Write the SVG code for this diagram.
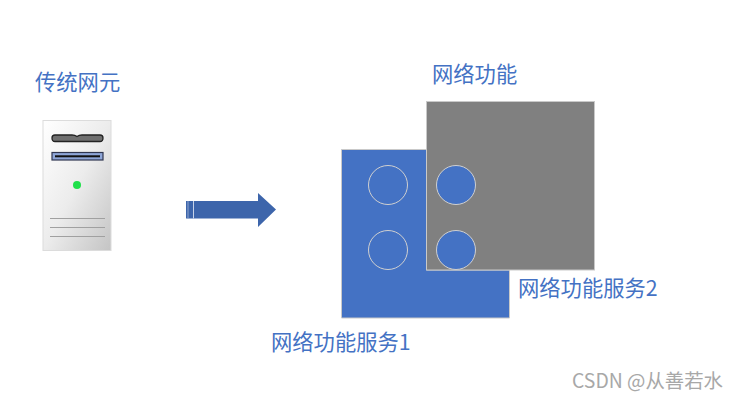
<svg xmlns="http://www.w3.org/2000/svg" width="739" height="400" viewBox="0 0 739 400">
<style>
.t{font-family:"Noto Sans CJK SC","Liberation Sans",sans-serif;font-size:21.3px;fill:#4472c4}
.s{stroke:#c9c9c9;stroke-width:1}
.c{fill:none;stroke:#d0d0d0;stroke-width:1}
.g{stroke:#a0a0a0;stroke-width:1}
</style>
<defs>
<linearGradient id="srv" x1="0" y1="0" x2="1" y2="1">
<stop offset="0" stop-color="#ffffff"/><stop offset="0.5" stop-color="#ececec"/><stop offset="1" stop-color="#c4c4c4"/>
</linearGradient>
</defs>
<rect width="739" height="400" fill="#fff"/>
<g id="legacy">
<text class="t" x="35" y="90">传统网元</text>
<rect x="43" y="120.500" width="68" height="130" fill="url(#srv)" stroke="#dcdcdc" stroke-width="1"/>
<path d="M55 135H72Q75 135 77 136.500Q79 135 82 135H100Q103 135 103 138Q103 141.500 100 141.500H55Q52 141.500 52 138Q52 135 55 135Z" fill="#6f6f6f" stroke="#222" stroke-width="1.300"/>
<rect x="52" y="152.500" width="51" height="7.500" fill="#8ea6d8" stroke="#2f3650" stroke-width="1.200"/>
<rect x="55" y="155.300" width="45" height="2" fill="#111"/>
<circle cx="77" cy="185" r="4" fill="#1fe04a"/>
<line class="g" x1="50" y1="218.500" x2="105" y2="218.500"/>
<line class="g" x1="50" y1="227.500" x2="105" y2="227.500"/>
<line class="g" x1="50" y1="236.500" x2="105" y2="236.500"/>
</g>
<g id="connectors">
<path d="M186 201H258V193L276 209.500L258 227V218.500H186Z" fill="#3d65ab"/>
<path d="M188 201V218.500" stroke="#8fa6cf" stroke-width="1" fill="none"/>
<path d="M193.500 201V218.500" stroke="#c7d3e8" stroke-width="1" fill="none"/>
</g>
<g id="service1">
<path d="M341.500 149.500H426.500V270H509.500V318H341.500Z" fill="#4472c4" class="s"/>
<circle class="c" cx="388" cy="185" r="19.500"/>
<circle class="c" cx="388" cy="250" r="19.500"/>
<text class="t" x="271" y="350">网络功能服务1</text>
</g>
<g id="function">
<rect x="426.500" y="101.500" width="168" height="168.500" fill="#808080" class="s"/>
<text class="t" x="432" y="82">网络功能</text>
</g>
<g id="service2">
<circle class="c" cx="456" cy="185" r="19.500" style="fill:#4472c4"/>
<circle class="c" cx="456" cy="250" r="19.500" style="fill:#4472c4"/>
<text class="t" x="518" y="296">网络功能服务2</text>
</g>
<text x="572" y="388" style="font-family:'Noto Sans CJK SC','Liberation Sans',sans-serif;font-size:19.400px;fill:#a8a8a8">CSDN @从善若水</text>
</svg>
